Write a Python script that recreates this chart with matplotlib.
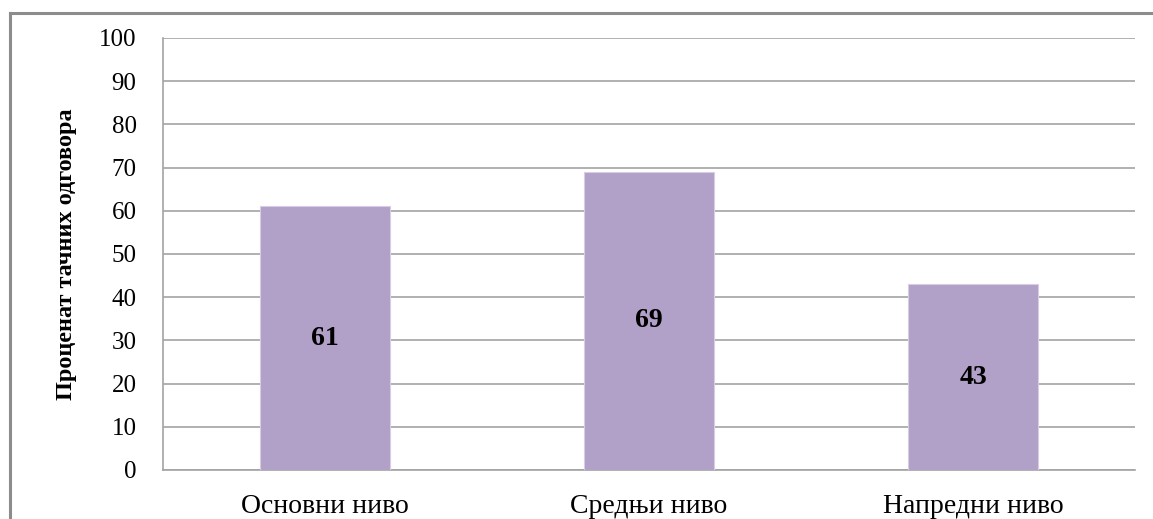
import matplotlib.pyplot as plt
from matplotlib.lines import Line2D

# data
levels = ['Основни ниво', 'Средњи ниво', 'Напредни ниво']
scores = [61, 69, 43]
y_ticks = [0, 10, 20, 30, 40, 50, 60, 70, 80, 90, 100]
y_label = 'Проценат тачних одговора'

plt.rcParams['font.family'] = ['Liberation Serif', 'DejaVu Serif']

fig = plt.figure(figsize=(11.53, 5.19), dpi=100)
ax = fig.add_axes([163 / 1153, 1 - 470 / 519, (1135 - 163) / 1153, (470 - 38) / 519])

bar_color = '#B1A0C7'
x = range(len(levels))
bars = ax.bar(x, scores, width=0.4, color=bar_color, edgecolor='#D8CCE6', linewidth=0.8, zorder=3)

# value labels in the middle of each bar
for rect, val in zip(bars, scores):
    ax.text(rect.get_x() + rect.get_width() / 2, val / 2, str(val),
            ha='center', va='center', fontsize=20, fontweight='bold', zorder=4)

ax.set_xlim(-0.5, len(levels) - 0.5)
ax.set_ylim(0, 100)
ax.set_yticks(y_ticks)
ax.set_xticks(list(x))
ax.set_xticklabels(levels, fontsize=20)
ax.tick_params(axis='y', length=0, pad=19, labelsize=18)
ax.tick_params(axis='x', length=0, pad=17)

ax.yaxis.grid(True, color='#A3A3A3', linewidth=1.2, zorder=0)
ax.set_axisbelow(True)
for side in ['top', 'right']:
    ax.spines[side].set_visible(False)
ax.spines['left'].set_color('#A3A3A3')
ax.spines['bottom'].set_color('#A3A3A3')
ax.spines['left'].set_linewidth(1.2)
ax.spines['bottom'].set_linewidth(1.2)

ax.set_ylabel(y_label, fontsize=17.5, fontweight='bold', labelpad=16)

# outer frame of the chart (left and top edges visible)
fig.add_artist(Line2D([10 / 1153, 10 / 1153], [0, 1 - 13 / 519], color='#8C8C8C', linewidth=2.2))
fig.add_artist(Line2D([10 / 1153, 1], [1 - 13 / 519, 1 - 13 / 519], color='#8C8C8C', linewidth=2.2))

fig.savefig('out.png', dpi=100)
